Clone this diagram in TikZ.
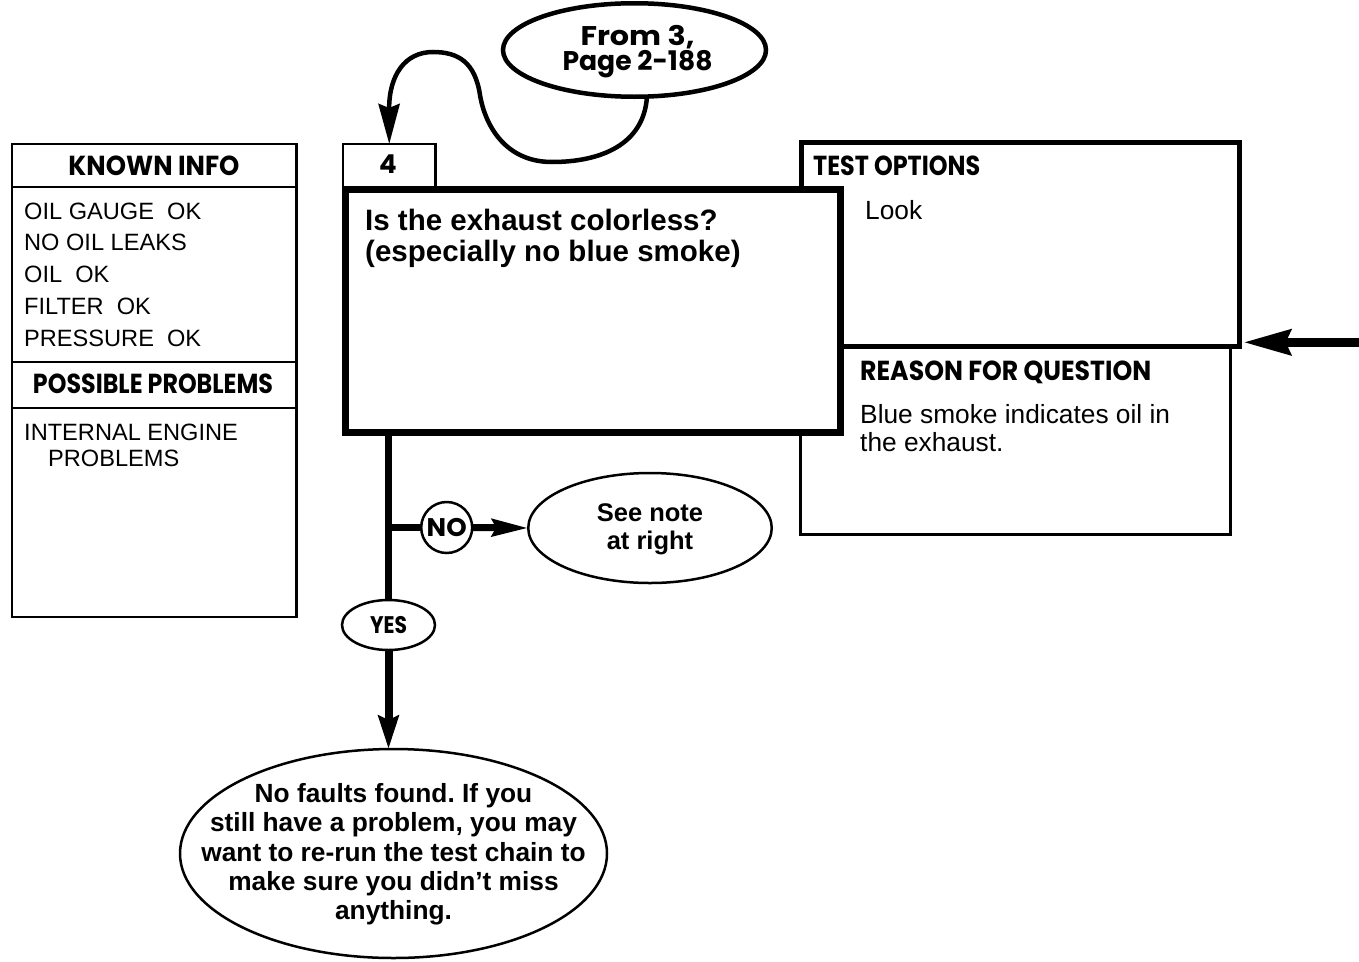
\documentclass[tikz,border=0pt]{standalone}
\usepackage{fontspec}
\usepackage{graphicx}
\setmainfont{Liberation Sans}
\newfontfamily\hdr{Poppins}
\usetikzlibrary{arrows.meta,shapes.geometric,calc}
\newcommand\fitw[2]{\resizebox{#1}{\height}{#2}}
\frenchspacing
\begin{document}
\begin{tikzpicture}[x=1pt,y=-1pt,line join=miter,
  box/.style={draw, inner sep=0pt, outer sep=0pt},
  thinb/.style={box, line width=2.5pt},
  body/.style={font=\fontsize{23.6}{28}\selectfont, inner sep=0pt, anchor=base west},
  rbody/.style={font=\fontsize{26.3}{29}\selectfont, inner sep=0pt, anchor=base west},
  qtext/.style={font=\bfseries\fontsize{29.5}{31}\selectfont, inner sep=0pt, anchor=base west},
  hd/.style={font=\hdr\bfseries\fontsize{27.5}{27.5}\selectfont, inner sep=0pt},
  oval/.style={ellipse, draw, inner sep=0pt, outer sep=0pt},
  etext/.style={font=\bfseries\fontsize{26.3}{29.3}\selectfont, align=center, inner sep=0pt},
  flow/.style={line width=7pt},
]
\useasboundingbox (0,0) rectangle (1359,961);

% ---------- KNOWN INFO panel ----------
\node[thinb, minimum width=284.5pt, minimum height=473pt] (known) at (154.25,380.5) {};
\draw[line width=2.5pt] (known.west |- 0,187) -- (known.east |- 0,187);
\draw[line width=2.5pt] (known.west |- 0,362) -- (known.east |- 0,362);
\draw[line width=2.5pt] (known.west |- 0,408) -- (known.east |- 0,408);
\node[hd, anchor=base] (kih) at (154,175) {\fitw{171pt}{KNOWN INFO}};
\node[body] (k1) at (24,219.3) {OIL GAUGE\ \ OK};
\node[body] (k2) at (24,250.8) {NO OIL LEAKS};
\node[body] (k3) at (24,282.6) {OIL\ \ OK};
\node[body] (k4) at (24,314.5) {FILTER\ \ OK};
\node[body] (k5) at (24,346.5) {PRESSURE\ \ OK};
\node[hd, anchor=base] (pph) at (153,393.3) {\fitw{240pt}{POSSIBLE PROBLEMS}};
\node[body] (p1) at (24,440) {INTERNAL ENGINE};
\node[body] (p2) at (48,466) {PROBLEMS};

% ---------- right panels ----------
\node[box, line width=3pt, minimum width=429.5pt, minimum height=187.5pt] (reason) at (1015.5,440.25) {};
\node[box, line width=5pt, minimum width=437.5pt, minimum height=204pt] (tests) at (1020.25,244.5) {};
\node[hd, anchor=base west] (toh) at (813,175) {\fitw{167pt}{TEST OPTIONS}};
\node[rbody] (look) at (865,219.3) {Look};
\node[hd, anchor=base west] (rqh) at (860,380) {\fitw{291pt}{REASON FOR QUESTION}};
\node[rbody] (r1) at (860,423) {Blue smoke indicates oil in};
\node[rbody] (r2) at (860,451.5) {the exhaust.};

% ---------- question box ----------
\node[box, line width=2.5pt, fill=white, minimum width=92.5pt, minimum height=45pt] (box4) at (389.25,166.5) {};
\node[hd, font=\hdr\bfseries\fontsize{26}{26}\selectfont, anchor=base] (n4) at (388,173.3) {4};
\node[box, line width=7pt, fill=white, minimum width=495pt, minimum height=243pt] (main) at (592.5,310.5) {};
\node[qtext] (q1) at (365,230) {Is the exhaust colorless?};
\node[qtext] (q2) at (365,261.5) {(especially no blue smoke)};

% ---------- entry from page 2-188 ----------
\node[oval, line width=4.5pt, minimum width=263pt, minimum height=93.5pt,
  label={[hd, align=center, font=\hdr\bfseries\fontsize{27}{25}\selectfont, xshift=3pt, yshift=-2pt]center:{\fitw{114pt}{From 3,}\\\fitw{150pt}{Page 2-188}}}] (from) at (634.5,50) {};
\coordinate (c1) at (552,162);
\coordinate (c2) at (480,95);
\coordinate (c3) at (433,52);
\draw[line width=4.5pt, -{Stealth[length=40pt,width=21pt,inset=4pt]}]
  (from.-75) .. controls (644,145) and (600,162) .. (c1)
  .. controls (505,162) and (485,125) .. (c2)
  .. controls (475,62) and (458,52) .. (c3)
  .. controls (405,52) and (389,75) .. (box4.north);

% ---------- arrow from right ----------
\coordinate (rin) at (1359,342.3);
\draw[line width=9pt, -{Stealth[length=47pt,width=25pt,inset=5pt]}] (rin) -- ($(tests.south east)+(4.5,-4.2)$);

% ---------- outcomes ----------
\node[oval, line width=2.5pt, minimum width=93pt, minimum height=50pt,
  label={[hd, font=\hdr\bfseries\fontsize{24}{24}\selectfont]center:\fitw{37pt}{YES}}] (yes) at (388.5,625) {};
\node[circle, draw, line width=2.5pt, inner sep=0pt, outer sep=0pt, minimum size=51pt,
  label={[hd, font=\hdr\bfseries\fontsize{25.5}{25.5}\selectfont]center:\fitw{40pt}{NO}}] (no) at (446.7,527.5) {};
\node[oval, line width=2.5pt, minimum width=243.5pt, minimum height=110pt,
  label={[etext, font=\bfseries\fontsize{25.5}{28.4}\selectfont, yshift=-1pt]center:{See note\\at right}}] (note) at (650,528) {};
\node[oval, line width=2.5pt, minimum width=427pt, minimum height=209pt,
  label={[etext, yshift=-1pt]center:{No faults found. If you\\still have a problem, you may\\want to re-run the test chain to\\make sure you didn’t miss\\anything.}}] (fault) at (393.5,853.5) {};

\draw[flow] (main.south -| yes.north) -- (yes.north);
\draw[flow] (no.west -| yes.north) -- (no.west);
\draw[flow, -{Stealth[length=36pt,width=17pt,inset=4pt]}] (no.east) -- (note.west);
\draw[line width=8pt, -{Stealth[length=33pt,width=20pt,inset=4pt]}] (yes.south) -- (yes.south |- fault.north);
\end{tikzpicture}
\end{document}
